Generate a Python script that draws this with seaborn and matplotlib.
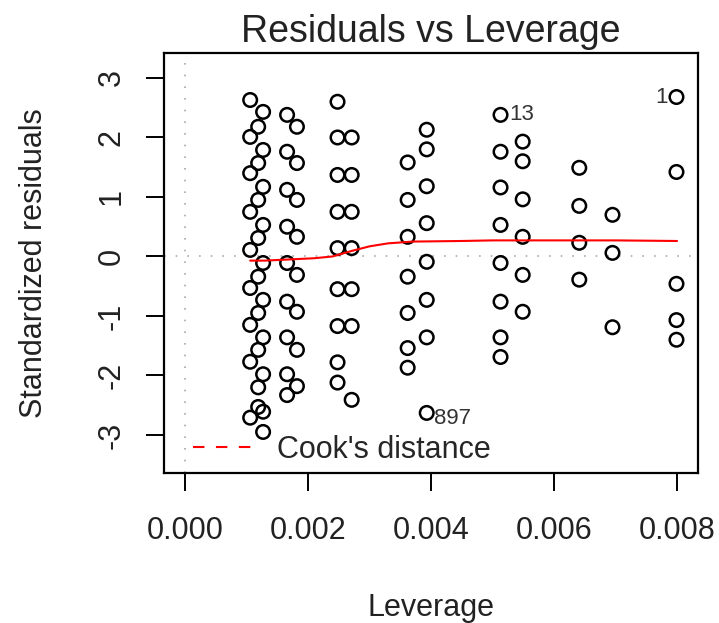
import matplotlib
matplotlib.use("Agg")
import matplotlib.pyplot as plt
from matplotlib.lines import Line2D
import seaborn as sns
import pandas as pd

# ---------------- data ----------------
lev_groups = [0.00106, 0.00119, 0.00127, 0.00166, 0.00182, 0.00248, 0.00271,
              0.00362, 0.00393, 0.00513, 0.00549, 0.00641, 0.00695, 0.00799]
resid_groups = [
    [2.63, 2.01, 1.40, 0.75, 0.11, -0.53, -1.15, -1.77, -2.71],
    [2.18, 1.57, 0.95, 0.31, -0.34, -0.95, -1.57, -2.20, -2.53],
    [2.43, 1.79, 1.17, 0.53, -0.11, -0.73, -1.36, -1.98, -2.61, -2.95],
    [2.38, 1.76, 1.12, 0.50, -0.11, -0.76, -1.36, -1.98, -2.33],
    [2.18, 1.57, 0.95, 0.33, -0.31, -0.93, -1.57, -2.18],
    [2.60, 2.00, 1.37, 0.75, 0.14, -0.55, -1.17, -1.78, -2.12],
    [2.00, 1.37, 0.75, 0.14, -0.55, -1.17, -2.41],
    [1.58, 0.95, 0.33, -0.34, -0.95, -1.54, -1.87],
    [2.13, 1.80, 1.18, 0.56, -0.09, -0.73, -1.36, -2.63],
    [2.38, 1.76, 1.16, 0.53, -0.11, -0.76, -1.36, -1.69],
    [1.93, 1.60, 0.96, 0.33, -0.31, -0.93],
    [1.49, 0.85, 0.23, -0.39],
    [0.70, 0.06, -1.19],
    [2.68, 1.42, -0.46, -1.07, -1.40],
]
smooth_lev = [0.00106, 0.0013, 0.0017, 0.0021, 0.0024, 0.0027, 0.0030, 0.0033,
              0.0037, 0.0045, 0.0050, 0.0060, 0.0070, 0.0080]
smooth_val = [-0.07, -0.07, -0.05, -0.03, 0.00, 0.09, 0.17, 0.22,
              0.25, 0.26, 0.27, 0.27, 0.27, 0.26]
label_names = ["1", "13", "897"]
label_lev = [0.00799, 0.00513, 0.00393]
label_res = [2.68, 2.38, -2.63]
x_ticks = [0.000, 0.002, 0.004, 0.006, 0.008]
x_tick_labels = ["0.000", "0.002", "0.004", "0.006", "0.008"]
y_ticks = [-3, -2, -1, 0, 1, 2, 3]

leverage, std_resid = [], []
for lv, rs in zip(lev_groups, resid_groups):
    for r in rs:
        leverage.append(lv)
        std_resid.append(r)
df = pd.DataFrame({"Leverage": leverage, "Standardized residuals": std_resid})
smooth = pd.DataFrame({"Leverage": smooth_lev, "fit": smooth_val})

# ---------------- figure ----------------
sns.set_theme(style="white")
plt.rcParams["font.family"] = ["Liberation Sans", "DejaVu Sans"]
plt.rcParams["axes.unicode_minus"] = False

W, H = 719, 623
fig = plt.figure(figsize=(W / 100, H / 100), dpi=100)
L, R, T, B = 164, 698, 53, 473
ax = fig.add_axes([L / W, 1 - B / H, (R - L) / W, (B - T) / H])

ax.axhline(0, color="#aaaaaa", lw=1.2, ls=(0, (1, 6)), zorder=1)
ax.axvline(0, color="#aaaaaa", lw=1.2, ls=(0, (1, 6)), zorder=1)

sns.scatterplot(data=df, x="Leverage", y="Standardized residuals", ax=ax,
                marker="o", s=95, facecolors="none", edgecolors="black",
                linewidths=1.8, zorder=3)
sns.lineplot(data=smooth, x="Leverage", y="fit", ax=ax, color="red",
             lw=1.5, sort=False, zorder=4)

for name, lx, ly in zip(label_names, label_lev, label_res):
    if name == "1":
        ax.annotate(name, (lx, ly), xytext=(-6, 0), textcoords="offset points",
                    ha="right", va="center", fontsize=16, color="#333333")
    elif name == "13":
        ax.annotate(name, (lx, ly), xytext=(6, 0), textcoords="offset points",
                    ha="left", va="center", fontsize=16, color="#333333")
    else:
        ax.annotate(name, (lx, ly), xytext=(5, -4), textcoords="offset points",
                    ha="left", va="center", fontsize=16, color="#333333")

ax.set_xlim(-0.000341, 0.00834)
ax.set_ylim(-3.64, 3.42)
ax.set_xticks(x_ticks)
ax.set_xticklabels(x_tick_labels)
ax.set_yticks(y_ticks)
ax.set_yticklabels([str(v) for v in y_ticks], rotation=90, va="center")

for sp in ax.spines.values():
    sp.set_color("black")
    sp.set_linewidth(1.6)
ax.tick_params(axis="both", which="major", direction="out", length=13,
               width=1.4, color="black", labelsize=22, labelcolor="#222222",
               left=True, bottom=True)
ax.tick_params(axis="x", pad=18)
ax.tick_params(axis="y", pad=14)

ax.set_xlabel("Leverage", fontsize=22, color="#222222")
ax.set_ylabel("Standardized residuals", fontsize=22, color="#222222")
ax.xaxis.set_label_coords(0.5, -0.285)
ax.yaxis.set_label_coords(-0.216, 0.5)
ax.set_title("Residuals vs Leverage", fontsize=27, color="#222222", pad=8)

handle = Line2D([], [], color="red", lw=1.5, ls=(0, (5.5, 5.5)))
ax.legend(handles=[handle], labels=["Cook's distance"], loc="lower left",
          bbox_to_anchor=(0.054, 0.02), frameon=False, fontsize=22,
          handlelength=1.9, handletextpad=0.85, borderpad=0, borderaxespad=0)

fig.savefig("out.png", dpi=100)
